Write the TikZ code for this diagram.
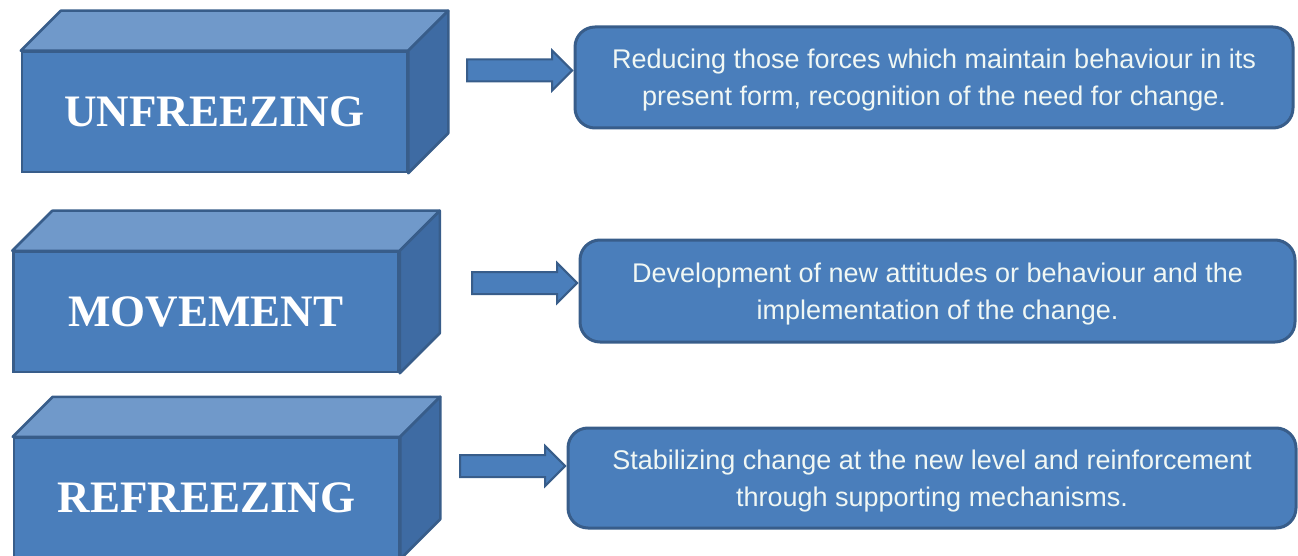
\documentclass[tikz,border=0pt]{standalone}
\usepackage{fontspec}
\setmainfont{Liberation Serif}
\newfontfamily\descfont{Liberation Sans}
\usetikzlibrary{shapes.arrows, positioning, calc}
\definecolor{facefront}{HTML}{4A7EBB}
\definecolor{facetop}{HTML}{7099CA}
\definecolor{faceside}{HTML}{3E6BA3}
\definecolor{edgeblue}{HTML}{385D8A}
\definecolor{paleink}{HTML}{F0F7F4}

\begin{document}
\begin{tikzpicture}[x=1pt, y=-1pt]
        \tikzstyle{front} = [rectangle, draw=edgeblue, line width=2.5pt, fill=facefront, minimum width=385pt, minimum height=120pt, text=white, font=\fontsize{45}{50}\selectfont\bfseries]
        \tikzstyle{topface} = [draw=edgeblue, line width=2.5pt, fill=facetop, line join=round]
        \tikzstyle{sideface} = [draw=edgeblue, line width=2.5pt, fill=faceside, line join=round]
        \tikzstyle{note} = [rectangle, rounded corners=20pt, draw=edgeblue, line width=3pt, fill=facefront, text=paleink, align=center, text depth=0pt, font=\descfont\fontsize{27}{37}\selectfont]
        \tikzstyle{pushar} = [single arrow, draw=edgeblue, line width=2pt, fill=facefront, inner sep=0pt, inner ysep=10pt, minimum height=105pt, single arrow head extend=9pt, anchor=tip]

        \clip (0,0) rectangle (1298,556);

        % the three stages as blocks
        \foreach \nm/\x/\y/\lbl in {uf/214.5/112/UNFREEZING, mv/206/312/MOVEMENT, rf/206.5/498/REFREEZING}{
            \node[front] (\nm) at (\x,\y) {\lbl};
            \draw[topface] (\nm.north west) -- ++(40,-40) -- ($(\nm.north east)+(40,-40)$) -- (\nm.north east) -- cycle;
            \draw[sideface] (\nm.north east) -- ++(40,-40) -- ($(\nm.south east)+(40,-40)$) -- (\nm.south east) -- cycle;
        }

        % what each stage means
        \node[note, minimum width=718pt, minimum height=101pt] (ufnote) at (934,77.5) {Reducing those forces which maintain behaviour in its\\present form, recognition of the need for change.};
        \node[note, minimum width=715pt, minimum height=102pt] (mvnote) at (937.5,291) {Development of new attitudes or behaviour and the\\implementation of the change.};
        \node[note, minimum width=728pt, minimum height=100pt] (rfnote) at (932,478) {Stabilizing change at the new level and reinforcement\\through supporting mechanisms.};

        \node[pushar, yshift=7pt] (ufarrow) at (ufnote.west) {};
        \node[pushar, yshift=8pt] (mvarrow) at (mvnote.west) {};
        \node[pushar, yshift=12pt] (rfarrow) at (rfnote.west) {};

    \end{tikzpicture}
\end{document}
